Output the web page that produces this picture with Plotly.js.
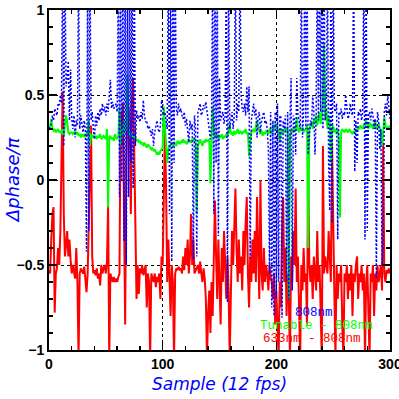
<!DOCTYPE html>
<html>
<head>
<meta charset="utf-8">
<script src="https://cdn.plot.ly/plotly-3.0.1.min.js"></script>
<style>html,body{margin:0;padding:0;background:#fff;}#chart{width:399px;height:399px;}</style>
</head>
<body>
<div id="chart"></div>
<script>
// Phase difference (units of pi) per sample
const blue808 = [
 0.3, 0.32, 0.33, 0.38, 0.35, 0.42, 0.4, 0.38, 0.45, 0.44,
 0.5, 0.45, 1.3, 0.2, 1.3, 0.55, 0.6, 0.7, 0.35, 0.65,
 0.36, 0.3, 0.38, 0.25, 0.35, 0.32, 1.3, 0.3, 0.38, 0.32,
 0.28, 0.35, 0.3, -0.42, 1.3, -0.3, 1.3, 0.35, 0.4, 0.3,
 0.24, 0.38, 0.32, 0.4, 0.35, 0.42, 0.38, 0.45, 0.4, 0.43,
 0.38, 0.45, 0.4, 0.5, 0.59, 0.42, 0.46, 0.42, 0.44, 0.45,
 0.4, 1.3, -0.1, 1.3, 0.0, 1.3, -0.36, 1.3, -0.5, 1.3,
 -0.1, 1.3, 0.1, 1.3, -0.05, 1.3, 0.2, 0.41, 0.36, 0.38,
 0.34, 0.4, 0.36, 0.47, 0.38, 0.34, 0.35, 0.3, 0.32, 0.28,
 0.26, 0.3, 0.2, 0.28, 0.33, 0.35, 0.3, 0.28, 0.32, 0.47,
 0.45, 0.38, 0.4, 0.35, 0.3, 1.3, -0.2, 1.3, -0.48, 1.3,
 0.1, 1.3, 0.42, 0.38, 0.45, 0.4, 0.42, 0.38, 0.36, 0.4,
 0.32, 0.36, 0.3, 0.22, 0.35, 0.3, 0.33, -0.47, 0.38, 0.3,
 -0.45, 0.4, 0.42, 0.45, 0.38, 0.4, 0.44, 0.42, 0.46, 0.4,
 0.35, 0.3, 0.24, 0.35, 1.3, -0.2, 1.3, 0.1, 1.3, -0.33,
 0.6, 0.35, 0.38, 0.4, 0.33, 0.38, 1.3, -0.72, 1.3, 0.3,
 0.35, 0.4, 0.3, 0.38, 1.3, 0.35, 0.45, 0.4, 1.3, 0.5,
 0.42, 0.4, 0.45, 0.38, 0.55, 0.4, 0.55, -0.46, 0.35, 0.4,
 0.45, 0.38, 0.42, 0.25, 0.38, 0.4, 0.28, 0.35, 0.38, 0.4,
 0.33, 0.35, 0.3, 0.18, -0.55, 0.4, -0.75, 0.35, -0.8, 0.4,
 -0.7, 0.45, -0.6, 0.38, 0.37, -0.81, 0.35, 0.3, 0.38, -0.6,
 0.4, -0.7, 0.35, 0.6, -0.65, 0.38, 0.35, 0.15, 0.6, 0.38,
 0.35, 0.3, 1.3, 0.25, 0.4, 1.3, 0.3, 1.3, 0.15, 0.3,
 0.35, 0.32, 0.5, 0.4, 0.15, 0.38, 1.3, 0.35, 1.3, 0.4,
 1.3, 0.3, 1.3, 0.35, 0.4, 1.3, 0.1, -0.18, 1.3, -0.25,
 1.3, 0.42, 0.4, 0.45, -0.35, 0.4, 0.38, 0.42, 0.36, 0.4,
 0.38, 0.5, 0.4, 0.36, 0.38, 0.45, 0.4, 0.38, 1.3, 0.05,
 0.35, 0.1, 0.4, 0.38, 0.42, 0.35, 0.4, 1.3, -0.35, 1.3,
 -0.3, 0.38, 0.4, 0.35, 0.42, 0.38, 0.3, 0.36, -0.58, 0.4,
 0.35, 0.18, 0.3, -0.5, -0.39, 0.4, 0.45, 0.38, 0.5, 0.4,
 0.36
];
const greenTunable = [
 0.3, 0.32, 0.36, 0.3, 0.29, 0.3, 0.28, 0.29, 0.3, 0.28,
 0.29, 0.27, 0.3, 0.26, 0.31, 0.38, 0.34, 0.28, 0.27, 0.28,
 0.28, 0.27, 0.28, 0.29, 0.27, 0.28, 0.26, 0.27, 0.25, 0.27,
 0.26, 0.27, 0.25, 0.28, 0.26, 0.35, 0.2, 0.27, 0.25, 0.26,
 0.25, 0.26, 0.24, 0.26, 0.25, 0.27, 0.24, 0.25, 0.26, 0.25,
 0.24, 0.3, -0.16, 0.25, 0.26, 0.24, 0.25, 0.23, 0.27, 0.25,
 0.24, 0.26, 0.43, 0.2, 0.3, 0.26, 0.35, 0.28, 0.3, 0.62,
 0.3, 0.27, 0.25, 0.28, 0.26, 0.24, 0.25, 0.23, 0.24, 0.22,
 0.23, 0.21, 0.22, 0.2, 0.22, 0.2, 0.19, 0.21, 0.2, 0.19,
 0.18, 0.19, 0.17, 0.18, 0.16, 0.15, 0.16, 0.15, 0.17, 0.18,
 0.19, 0.43, 0.3, 0.2, 0.1, 0.18, 0.2, 0.21, 0.22, 0.2,
 0.21, 0.22, 0.2, 0.23, 0.22, 0.21, 0.23, 0.22, 0.24, 0.22,
 0.23, 0.21, 0.22, 0.24, 0.23, 0.22, 0.24, 0.23, 0.25, 0.22,
 -0.2, 0.2, 0.22, 0.24, 0.22, 0.2, 0.23, 0.22, 0.24, 0.23,
 0.23, 0.24, -0.02, 0.25, 0.43, 0.3, 0.26, 0.25, 0.27, 0.24,
 0.26, 0.25, 0.27, 0.24, 0.26, 0.25, 0.27, 0.26, 0.28, 0.33,
 0.27, 0.28, 0.26, 0.29, 0.27, 0.28, 0.3, 0.27, 0.29, 0.28,
 0.27, 0.29, 0.28, 0.3, 0.27, 0.28, 0.14, 0.22, 0.28, 0.29,
 0.3, 0.28, 0.33, 0.35, 0.31, 0.28, 0.27, 0.29, 0.26, 0.28,
 0.27, 0.29, 0.28, 0.27, 0.3, 0.28, 0.27, 0.32, 0.3, 0.33,
 0.31, 0.29, 0.3, 0.22, 0.28, 0.3, 0.27, 0.29, 0.31, 0.28,
 0.3, -0.7, 0.25, 0.29, 0.3, 0.28, 0.31, 0.29, 0.37, 0.3,
 0.28, 0.3, 0.29, 0.31, 0.28, 0.3, 0.29, 0.32, -0.4, 0.3,
 0.32, 0.34, 0.3, 0.36, 0.33, 0.38, 0.32, 0.35, 0.4, 0.33,
 0.38, 0.45, 0.8, 0.35, 0.42, 0.3, 0.38, 0.35, 0.1, 0.3,
 0.32, 0.28, 0.3, 0.27, 0.3, 0.25, -0.22, 0.28, 0.3, 0.29,
 0.28, 0.3, 0.29, 0.28, 0.3, 0.29, 0.28, 0.27, 0.29, 0.28,
 0.3, 0.29, 0.31, 0.3, 0.32, 0.31, 0.3, 0.33, 0.32, 0.35,
 0.32, 0.3, 0.34, 0.31, 0.33, 0.3, 0.32, 0.35, 0.31, 0.3,
 0.33, 0.31, 0.28, 0.2, 0.3, 0.37, 0.32, 0.3, 0.31, 0.3,
 0.32
];
const red633 = [
 -0.53, -0.55, -0.35, -0.2, -0.16, -0.78, -0.55, -0.52, -0.4, -0.5,
 -0.3, 0.25, 0.52, -0.2, -0.45, -0.38, -0.3, -0.45, -0.35, -0.47,
 -0.55, -0.5, -0.55, -0.58, -0.4, -0.6, -1.05, -0.55, -0.52, -0.54,
 -0.55, -0.51, -0.6, -0.66, -0.55, -0.3, 0.08, 0.32, -0.45, -0.55,
 -0.53, -0.56, -0.52, -0.58, -0.55, -0.62, -0.5, -0.55, -0.52, -0.5,
 -0.55, -0.48, -0.15, -1.05, -0.55, -0.58, -0.6, -0.57, -0.6, -0.58,
 -0.6, -0.57, -0.55, 0.4, 0.2, 0.45, -0.1, -0.85, 0.1, 0.45,
 0.42, 0.35, -0.2, 0.45, 0.6, 0.1, -0.45, -0.7, -0.5, -0.67,
 -0.52, -0.55, -0.5, -0.56, -0.53, -0.5, -0.75, -0.55, -0.6, -1.05,
 -0.55, -0.58, -0.6, -0.55, -0.63, -0.57, -0.6, -0.55, -0.7, -0.45,
 -0.5, -0.1, 0.3, -0.05, -0.6, -0.35, -0.55, -0.8, -0.5, -0.6,
 -1.05, -0.55, -0.52, -0.53, -0.51, -0.53, -0.52, -0.55, -0.45, -0.53,
 -0.4, -0.5, -0.35, -0.55, -0.45, -0.2, -0.5, -0.35, -0.55, -0.53,
 -0.52, -0.5, -0.55, -0.48, -0.55, -0.6, -0.52, -0.58, -0.7, -1.05,
 -0.78, -0.65, -0.9, -0.6, -0.8, -0.3, -0.12, -0.45, -0.7, -0.35,
 -0.55, -0.85, -0.4, -0.6, -0.3, -0.5, -0.7, -0.45, -0.65, -1.05,
 -0.6, -0.3, -0.5, -0.2, -0.05, -0.4, -0.6, -0.35, -0.55, -0.45,
 -0.65, -0.3, -0.5, -0.25, -0.1, -0.55, -0.75, -0.45, -0.6, -0.35,
 -0.55, -0.3, -0.6, -0.1, -0.5, -0.7, 0.0, -0.55, -0.65, -0.4,
 -0.6, -0.5, -0.55, -0.65, -0.5, -0.58, -0.6, -0.7, -0.55, -0.85,
 -0.65, -0.9, -1.05, -0.6, -0.75, -0.3, -0.1, -0.6, -0.4, -0.8,
 -0.55, -0.7, -1.05, -0.45, -0.6, -0.3, -0.5, -0.05, -0.6, -0.45,
 -0.7, -1.05, -0.5, -0.65, -0.4, -0.6, -0.55, -0.85, 0.1, -0.5,
 -0.6, -0.5, -0.7, -0.45, -0.55, -0.65, -0.3, -0.6, -0.5, -0.75,
 -1.05, 0.2, -0.55, -0.45, -0.5, -0.55, -0.3, -0.5, -0.6, 0.22,
 -0.4, -0.65, -1.05, -0.5, -0.7, -0.55, -0.6, -0.5, -0.85, -1.05,
 -0.55, -0.6, -0.5, -0.7, -0.55, -0.65, -0.5, -0.8, -0.55, -0.6,
 -0.5, -0.45, -0.7, -0.55, -0.6, -0.5, -0.65, -0.55, -1.05, -0.6,
 -0.5, -0.7, -1.05, -0.55, -0.6, -0.5, -0.8, -0.55, -0.65, -0.5,
 -0.6, -0.55, -0.5, -0.65, 0.22, -0.55, -0.6, -0.53, -0.55, -0.52,
 -0.55
];
const seriesNames = ["808nm", "Tunable - 808nm", "633nm - 808nm"];
const seriesColors = ["#0000ff", "#00ff00", "#ff0000"];
const sampleIdx = blue808.map((_, i) => i);

const traces = [
  {x: sampleIdx, y: red633, type: 'scatter', mode: 'lines', name: seriesNames[2],
   line: {color: seriesColors[2], width: 2}},
  {x: sampleIdx, y: greenTunable, type: 'scatter', mode: 'lines', name: seriesNames[1],
   line: {color: seriesColors[1], width: 2}},
  {x: sampleIdx, y: blue808, type: 'scatter', mode: 'lines', name: seriesNames[0],
   line: {color: seriesColors[0], width: 1.5, dash: '2px,2px'}}
];

const tickFont = {family: 'Liberation Sans, Arial, sans-serif', size: 14, color: '#000', weight: 'bold'};
const axisCommon = {
  showline: true, linecolor: '#000', linewidth: 2, mirror: 'ticks',
  ticks: 'inside', ticklen: 8, tickwidth: 1.5, tickcolor: '#000',
  showgrid: true, gridcolor: '#000', gridwidth: 1, griddash: 'dot',
  zeroline: false, tickfont: tickFont, fixedrange: true, ticklabeloverflow: 'allow'
};

const legendFont = {family: 'Liberation Mono, DejaVu Sans Mono, monospace', size: 12.5};
const layout = {
  width: 399, height: 399,
  margin: {l: 49, r: 9, t: 10, b: 49},
  paper_bgcolor: '#fff', plot_bgcolor: '#fff',
  showlegend: false,
  xaxis: Object.assign({}, axisCommon, {
    range: [0, 300], tick0: 0, dtick: 100,
    minor: {ticks: 'inside', dtick: 20, ticklen: 4, tickwidth: 1.5, tickcolor: '#000', showgrid: false}
  }),
  yaxis: Object.assign({}, axisCommon, {
    range: [-1, 1], tick0: 0, dtick: 0.5,
    minor: {ticks: 'inside', dtick: 0.1, ticklen: 4, tickwidth: 1.5, tickcolor: '#000', showgrid: false}
  }),
  annotations: [
    {xref: 'paper', yref: 'paper', x: 0.5, y: -0.1, yanchor: 'middle', xanchor: 'center', showarrow: false,
     text: 'Sample (12 fps)', font: {family: 'DejaVu Sans, sans-serif', size: 17, color: '#0000ff', style: 'italic'}},
    {xref: 'paper', yref: 'paper', x: -0.108, y: 0.5, xanchor: 'center', yanchor: 'middle', showarrow: false, textangle: -90,
     text: 'Δphase/π', font: {family: 'DejaVu Sans, sans-serif', size: 18, color: '#0000ff', style: 'italic'}},
    {xref: 'paper', yref: 'paper', x: 0.777, y: 0.11, xanchor: 'center', yanchor: 'middle', showarrow: false, borderpad: 0,
     text: seriesNames[0], font: Object.assign({color: seriesColors[0]}, legendFont)},
    {xref: 'paper', yref: 'paper', x: 0.783, y: 0.072, xanchor: 'center', yanchor: 'middle', showarrow: false, borderpad: 0,
     text: seriesNames[1], font: Object.assign({color: seriesColors[1]}, legendFont)},
    {xref: 'paper', yref: 'paper', x: 0.77, y: 0.033, xanchor: 'center', yanchor: 'middle', showarrow: false, borderpad: 0,
     text: seriesNames[2], font: Object.assign({color: seriesColors[2]}, legendFont)}
  ]
};

Plotly.newPlot('chart', traces, layout, {staticPlot: true, displayModeBar: false});
</script>
</body>
</html>
